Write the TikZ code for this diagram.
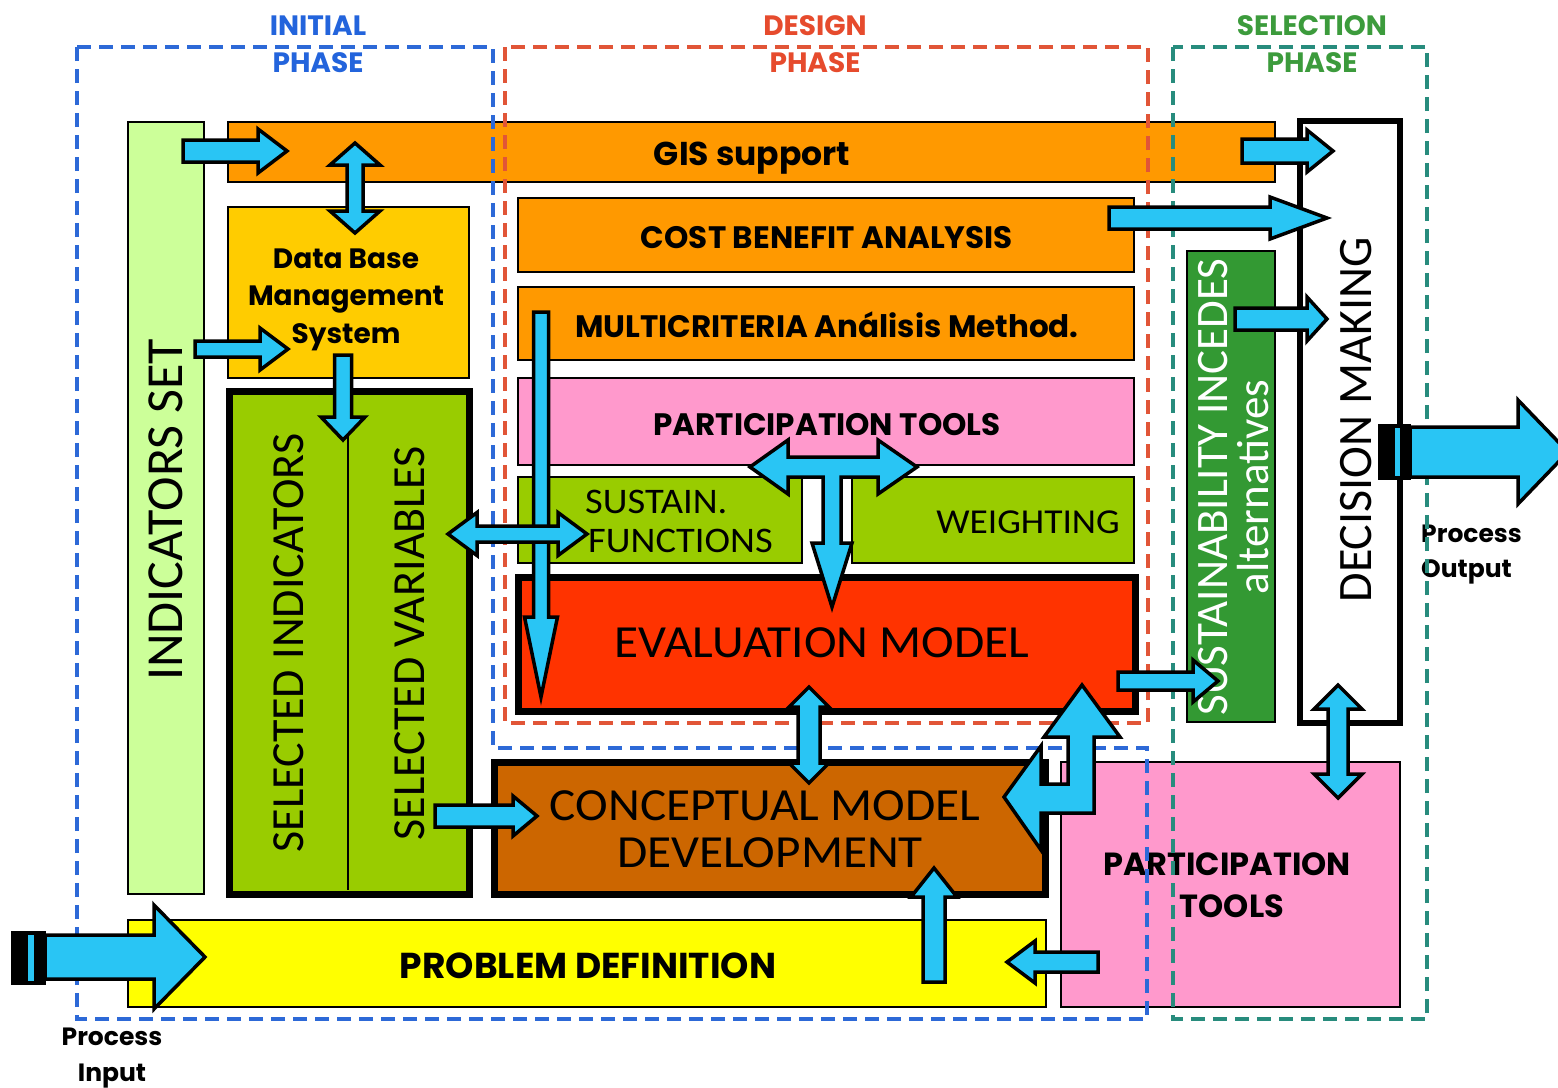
\documentclass[tikz,border=0pt]{standalone}
\usepackage{fontspec}
\usetikzlibrary{calc}
\newfontfamily\bfnt{Poppins}
\newfontfamily\calH[FakeStretch=1.07]{Carlito}
\newfontfamily\calV{Carlito}
\definecolor{acyan}{RGB}{41,197,244}
\definecolor{gisor}{RGB}{255,153,0}
\definecolor{dbgold}{RGB}{255,204,0}
\definecolor{indgreen}{RGB}{204,255,153}
\definecolor{selgreen}{RGB}{153,204,0}
\definecolor{pinkbox}{RGB}{255,153,204}
\definecolor{evred}{RGB}{255,51,0}
\definecolor{cmbrown}{RGB}{204,102,0}
\definecolor{susgreen}{RGB}{51,153,51}
\definecolor{pdyellow}{RGB}{255,255,0}
\definecolor{iniblue}{RGB}{35,100,220}
\definecolor{desred}{RGB}{230,75,45}
\definecolor{selgr}{RGB}{60,155,60}
\definecolor{dblue}{RGB}{45,105,215}
\definecolor{dred}{RGB}{225,85,55}
\definecolor{dteal}{RGB}{40,140,125}
\tikzset{
  box/.style={draw=black, line width=1.2pt, inner sep=0pt, outer sep=0pt, anchor=north west},
  heavy/.style={draw=black, line width=7pt, inner sep=0pt, outer sep=0pt, anchor=north west},
  blockarrow/.style={draw=black, fill=acyan, line width=3.5pt, line join=miter},
  phase/.style={dash pattern=on 14pt off 8pt, line width=3.2pt},
  btxt/.style={anchor=base, inner sep=0pt, font=\bfnt\bfseries\fontsize{#1}{#1}\selectfont},
  ctxt/.style={anchor=base, inner sep=0pt, font=\calH\fontsize{#1}{#1}\selectfont},
  vtxt/.style={anchor=center, inner sep=0pt, rotate=90, font=\calV\fontsize{#1}{#1}\selectfont},
}
\newcommand\boxat[6]{\node[#6, minimum width={#4pt-#2pt}, minimum height={#5pt-#3pt}] (#1) at (#2,#3) {};}
\newcommand\barrow[5]{%
  \coordinate (bt) at (#1); \coordinate (bp) at (#2);
  \coordinate (bh) at ($(bp)!#5pt!(bt)$);
  \draw[blockarrow] ($(bt)!#3pt!90:(bp)$) -- ($(bh)!#3pt!90:(bp)$) -- ($(bh)!#4pt!90:(bp)$) -- (bp)
     -- ($(bh)!#4pt!-90:(bp)$) -- ($(bh)!#3pt!-90:(bp)$) -- ($(bt)!#3pt!-90:(bp)$) -- cycle;}
\newcommand\dbarrow[5]{%
  \coordinate (ba) at (#1); \coordinate (bb) at (#2);
  \coordinate (bha) at ($(ba)!#5pt!(bb)$); \coordinate (bhb) at ($(bb)!#5pt!(ba)$);
  \draw[blockarrow] (ba) -- ($(bha)!#4pt!90:(bb)$) -- ($(bha)!#3pt!90:(bb)$) -- ($(bhb)!#3pt!-90:(ba)$)
     -- ($(bhb)!#4pt!-90:(ba)$) -- (bb) -- ($(bhb)!#4pt!90:(ba)$) -- ($(bhb)!#3pt!90:(ba)$)
     -- ($(bha)!#3pt!-90:(bb)$) -- ($(bha)!#4pt!-90:(bb)$) -- cycle;}
\begin{document}
\begin{tikzpicture}[x=1pt,y=-1pt]
\useasboundingbox (0,0) rectangle (1558,1087);
\fill[white] (0,0) rectangle (1558,1087);
% ---------- boxes ----------
\boxat{indset}{128}{122}{204}{894}{box, fill=indgreen}
\boxat{gis}{228}{122}{1275}{182}{box, fill=gisor}
\boxat{dbms}{228}{207}{469}{378}{box, fill=dbgold}
\boxat{sel}{229}{391}{469}{894}{heavy, fill=selgreen}
\draw[line width=1.2pt] (348,395) -- (348,890);
\boxat{cba}{518}{198}{1134}{272}{box, fill=gisor}
\boxat{mca}{518}{287}{1134}{360}{box, fill=gisor}
\boxat{ptA}{518}{378}{1134}{465}{box, fill=pinkbox}
\boxat{sfn}{518}{477}{802}{563}{box, fill=selgreen}
\boxat{wgt}{852}{477}{1134}{563}{box, fill=selgreen}
\boxat{evm}{518}{577}{1135}{711}{heavy, fill=evred}
\boxat{cmd}{494}{762}{1045}{894}{heavy, fill=cmbrown}
\boxat{sus}{1187}{251}{1275}{722}{box, fill=susgreen}
\boxat{dmk}{1300}{121}{1400}{723}{heavy, line width=6pt, fill=white}
\boxat{ptB}{1061}{762}{1400}{1007}{box, fill=pinkbox}
\boxat{pdf}{128}{920}{1046}{1007}{box, fill=pdyellow}
% ---------- texts ----------
\node[vtxt=52] (indset-t) at (166,510) {INDICATORS SET};
\node[btxt=33] (gis-t) at (752,165) {GIS support};
\node[btxt=28] (dbms-t1) at (346,268) {Data Base};
\node[btxt=28] (dbms-t2) at (346,305) {Management};
\node[btxt=28] (dbms-t3) at (346,343) {System};
\node[vtxt=46] (sel-t1) at (289,643) {SELECTED INDICATORS};
\node[vtxt=46] (sel-t2) at (410,643) {SELECTED VARIABLES};
\node[btxt=31] (cba-t) at (827,248) {COST BENEFIT ANALYSIS};
\node[btxt=31] (mca-t) at (827,337) {MULTICRITERIA Análisis Method.};
\node[btxt=31] (ptA-t) at (827,435) {PARTICIPATION TOOLS};
\node[ctxt=36, anchor=base west] (sfn-t1) at (585,513) {SUSTAIN.};
\node[ctxt=36, anchor=base west] (sfn-t2) at (588,552) {FUNCTIONS};
\node[ctxt=35] (wgt-t) at (1028,533) {WEIGHTING};
\node[ctxt=46] (evm-t) at (822,657) {EVALUATION MODEL};
\node[ctxt=46] (cmd-t1) at (765,820) {CONCEPTUAL MODEL};
\node[ctxt=46] (cmd-t2) at (770,867) {DEVELOPMENT};
\node[vtxt=45, text=white] (sus-t1) at (1213,487) {SUSTAINABILITY INCEDES};
\node[vtxt=45, text=white] (sus-t2) at (1253,487) {alternatives};
\node[vtxt=48] (dmk-t) at (1356,420) {DECISION MAKING};
\node[btxt=32] (ptB-t1) at (1227,875) {PARTICIPATION};
\node[btxt=32] (ptB-t2) at (1232,917) {TOOLS};
\node[btxt=36] (pdf-t) at (588,978) {PROBLEM DEFINITION};
\node[btxt=25] (in-t1) at (112,1045) {Process};
\node[btxt=25] (in-t2) at (112,1081) {Input};
\node[btxt=25, anchor=base west] (out-t1) at (1421,542) {Process};
\node[btxt=25, anchor=base west] (out-t2) at (1421,577) {Output};
% ---------- phase frames ----------
\draw[phase, draw=dblue] (77,47) -- (493,47) -- (493,748) -- (1147,748) -- (1147,1019) -- (77,1019) -- cycle;
\draw[phase, draw=dred] (505,47) rectangle (1148,723);
\draw[phase, draw=dteal] (1173,47) rectangle (1427,1019);
\node[btxt=28, text=iniblue] (ini-1) at (318,35) {INITIAL};
\node[btxt=28, text=iniblue] (ini-2) at (318,72) {PHASE};
\node[btxt=28, text=desred] (des-1) at (815,35) {DESIGN};
\node[btxt=28, text=desred] (des-2) at (815,72) {PHASE};
\node[btxt=28, text=selgr] (sel-1) at (1312,35) {SELECTION};
\node[btxt=28, text=selgr] (sel-2) at (1312,72) {PHASE};
% ---------- arrows ----------
\barrow{183,151}{287,151}{11}{22}{29}
\dbarrow{355,143}{355,233}{8}{25}{22}
\barrow{195,349}{288,349}{8}{21}{28}
\barrow{343,355}{343,440}{8.5}{22}{23}
\barrow{541,312}{541,697}{7.5}{16.5}{80}
\dbarrow{448,534}{587,534}{8}{21.5}{29}
% T-shaped arrow
\draw[blockarrow] (750,467) -- (788,440) -- (788,457) -- (878,457) -- (878,440) -- (917,467)
  -- (878,494) -- (878,477) -- (841,477) -- (841,543) -- (852,543) -- (832,607)
  -- (812,543) -- (823,543) -- (823,477) -- (788,477) -- (788,494) -- cycle;
\dbarrow{809,687}{809,783}{11}{20}{20}
\barrow{1118,681}{1218,681}{9}{21}{25}
% bent arrow
\draw[blockarrow] (1082,685) -- (1120,737) -- (1094,737) -- (1094,813) -- (1041,813) -- (1041,850)
  -- (1004,797) -- (1041,746) -- (1041,784) -- (1068,784) -- (1068,737) -- (1044,737) -- cycle;
\barrow{1098,962}{1007,962}{10}{21}{28}
\barrow{934,982}{934,868}{11}{23}{29}
\barrow{435,816}{537,816}{11}{20}{24}
\barrow{1242,151}{1333,151}{12}{21}{26}
\barrow{1109,218}{1327,218}{11}{21}{57}
\barrow{1235,319}{1327,319}{11}{22}{20}
\dbarrow{1338,685}{1338,798}{10}{24}{24}
% process input
\barrow{45,957}{205,957}{22}{52}{51}
\fill[black] (11,931) rectangle (46,985);
\fill[acyan] (28,935) rectangle (34,981);
% process output
\barrow{1410,452}{1568,452}{25}{52}{50}
\fill[black] (1378,424) rectangle (1411,480);
\fill[acyan] (1395,428) rectangle (1400,476);
\end{tikzpicture}
\end{document}
